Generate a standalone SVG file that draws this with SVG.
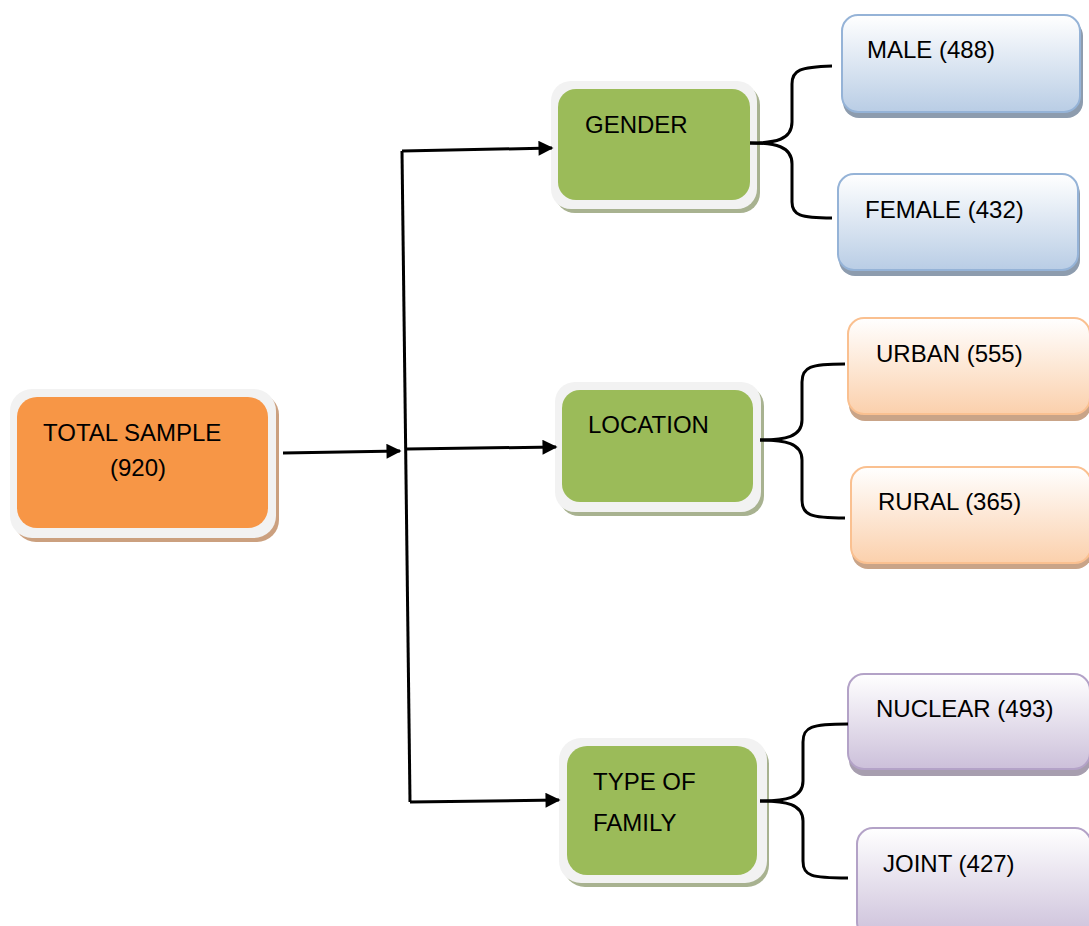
<svg xmlns="http://www.w3.org/2000/svg" width="1089" height="926" viewBox="0 0 1089 926">
<defs>
<linearGradient id="gBlue" x1="0" y1="0" x2="0" y2="1"><stop offset="0" stop-color="#ffffff"/><stop offset="1" stop-color="#b9cde5"/></linearGradient>
<linearGradient id="gOrange" x1="0" y1="0" x2="0" y2="1"><stop offset="0" stop-color="#ffffff"/><stop offset="1" stop-color="#fbd0ac"/></linearGradient>
<linearGradient id="gPurple" x1="0" y1="0" x2="0" y2="1"><stop offset="0" stop-color="#ffffff"/><stop offset="1" stop-color="#ccc0da"/></linearGradient>
<marker id="ah" viewBox="0 0 10 10" refX="9" refY="5" markerWidth="5.5" markerHeight="5" orient="auto" markerUnits="strokeWidth"><path d="M0,0 L10,5 L0,10 z" fill="#000"/></marker>
</defs>
<style>
text{font-family:"Liberation Sans",Arial,sans-serif;font-size:24px;fill:#000}
.frame{fill:#f2f2f2}
.green{fill:#9bbb59}
.gshadow{fill:#a8b290}
.conn{fill:none;stroke:#000;stroke-width:3}
.brace{fill:none;stroke:#000;stroke-width:3}
.blue{fill:url(#gBlue);stroke:#95b3d7;stroke-width:2}
.bshadow{fill:#8d9cae}
.lorange{fill:url(#gOrange);stroke:#fac090;stroke-width:2}
.oshadow{fill:#c9a488}
.purple{fill:url(#gPurple);stroke:#b3a2c7;stroke-width:2}
.pshadow{fill:#a79eaf}
</style>
<rect width="1089" height="926" fill="#fff"/>

<g id="total">
<rect x="14" y="393" width="265" height="149" rx="22" fill="#cba07f"/>
<rect x="10" y="389" width="266" height="149" rx="22" class="frame"/>
<rect x="17" y="397" width="251" height="131" rx="20" fill="#f79646"/>
<text x="43" y="441">TOTAL SAMPLE</text>
<text x="110" y="476">(920)</text>
</g>

<g id="gender">
<rect x="555" y="85" width="205" height="128" rx="20" class="gshadow"/>
<rect x="551" y="81" width="206" height="128" rx="20" class="frame"/>
<rect x="558" y="89" width="192" height="111" rx="18" class="green"/>
<text x="585" y="133">GENDER</text>
</g>

<g id="location">
<rect x="559" y="386" width="205" height="130" rx="20" class="gshadow"/>
<rect x="555" y="382" width="206" height="130" rx="20" class="frame"/>
<rect x="562" y="390" width="191" height="112" rx="18" class="green"/>
<text x="588" y="433">LOCATION</text>
</g>

<g id="family">
<rect x="563" y="742" width="206" height="145" rx="22" class="gshadow"/>
<rect x="559" y="738" width="208" height="145" rx="22" class="frame"/>
<rect x="567" y="746" width="190" height="129" rx="20" class="green"/>
<text x="593" y="790">TYPE OF</text>
<text x="593" y="831">FAMILY</text>
</g>

<g id="male">
<rect x="843" y="20" width="240" height="98" rx="16" class="bshadow"/>
<rect x="842" y="15" width="238" height="97" rx="16" class="blue"/>
<text x="867" y="58">MALE (488)</text>
</g>

<g id="female">
<rect x="839" y="178" width="241" height="98" rx="16" class="bshadow"/>
<rect x="838" y="174" width="240" height="96" rx="16" class="blue"/>
<text x="865" y="218">FEMALE (432)</text>
</g>

<g id="urban">
<rect x="849" y="323" width="242" height="98" rx="16" class="oshadow"/>
<rect x="848" y="318" width="242" height="96" rx="16" class="lorange"/>
<text x="876" y="362">URBAN (555)</text>
</g>

<g id="rural">
<rect x="852" y="472" width="240" height="97" rx="16" class="oshadow"/>
<rect x="851" y="467" width="240" height="96" rx="16" class="lorange"/>
<text x="878" y="510">RURAL (365)</text>
</g>

<g id="nuclear">
<rect x="849" y="680" width="242" height="96" rx="16" class="pshadow"/>
<rect x="848" y="674" width="242" height="95" rx="16" class="purple"/>
<text x="876" y="717">NUCLEAR (493)</text>
</g>

<g id="joint">
<rect x="857" y="828" width="234" height="110" rx="16" class="purple"/>
<text x="883" y="872">JOINT (427)</text>
</g>

<g id="connectors">
<line x1="283" y1="453" x2="400" y2="451" class="conn" marker-end="url(#ah)"/>
<line x1="402" y1="151" x2="410" y2="802" class="conn"/>
<line x1="402" y1="151" x2="552" y2="148" class="conn" marker-end="url(#ah)"/>
<line x1="407" y1="449" x2="556" y2="447" class="conn" marker-end="url(#ah)"/>
<line x1="410" y1="802" x2="559" y2="800" class="conn" marker-end="url(#ah)"/>
<path d="M750,143 C775,143 792,140 792,122 L792,84 C792,70 800,67 832,66" class="brace"/>
<path d="M750,143 C775,143 792,146 792,164 L792,202 C792,215 800,218 832,218" class="brace"/>
<path d="M760,440 C785,440 802,437 802,420 L802,382 C802,367 810,364 845,364" class="brace"/>
<path d="M760,440 C785,440 802,443 802,460 L802,500 C802,515 810,518 845,518" class="brace"/>
<path d="M760,801 C786,801 803,798 803,781 L803,742 C803,727 811,724 848,724" class="brace"/>
<path d="M760,801 C786,801 803,804 803,821 L803,861 C803,876 811,878 848,878" class="brace"/>
</g>
</svg>
